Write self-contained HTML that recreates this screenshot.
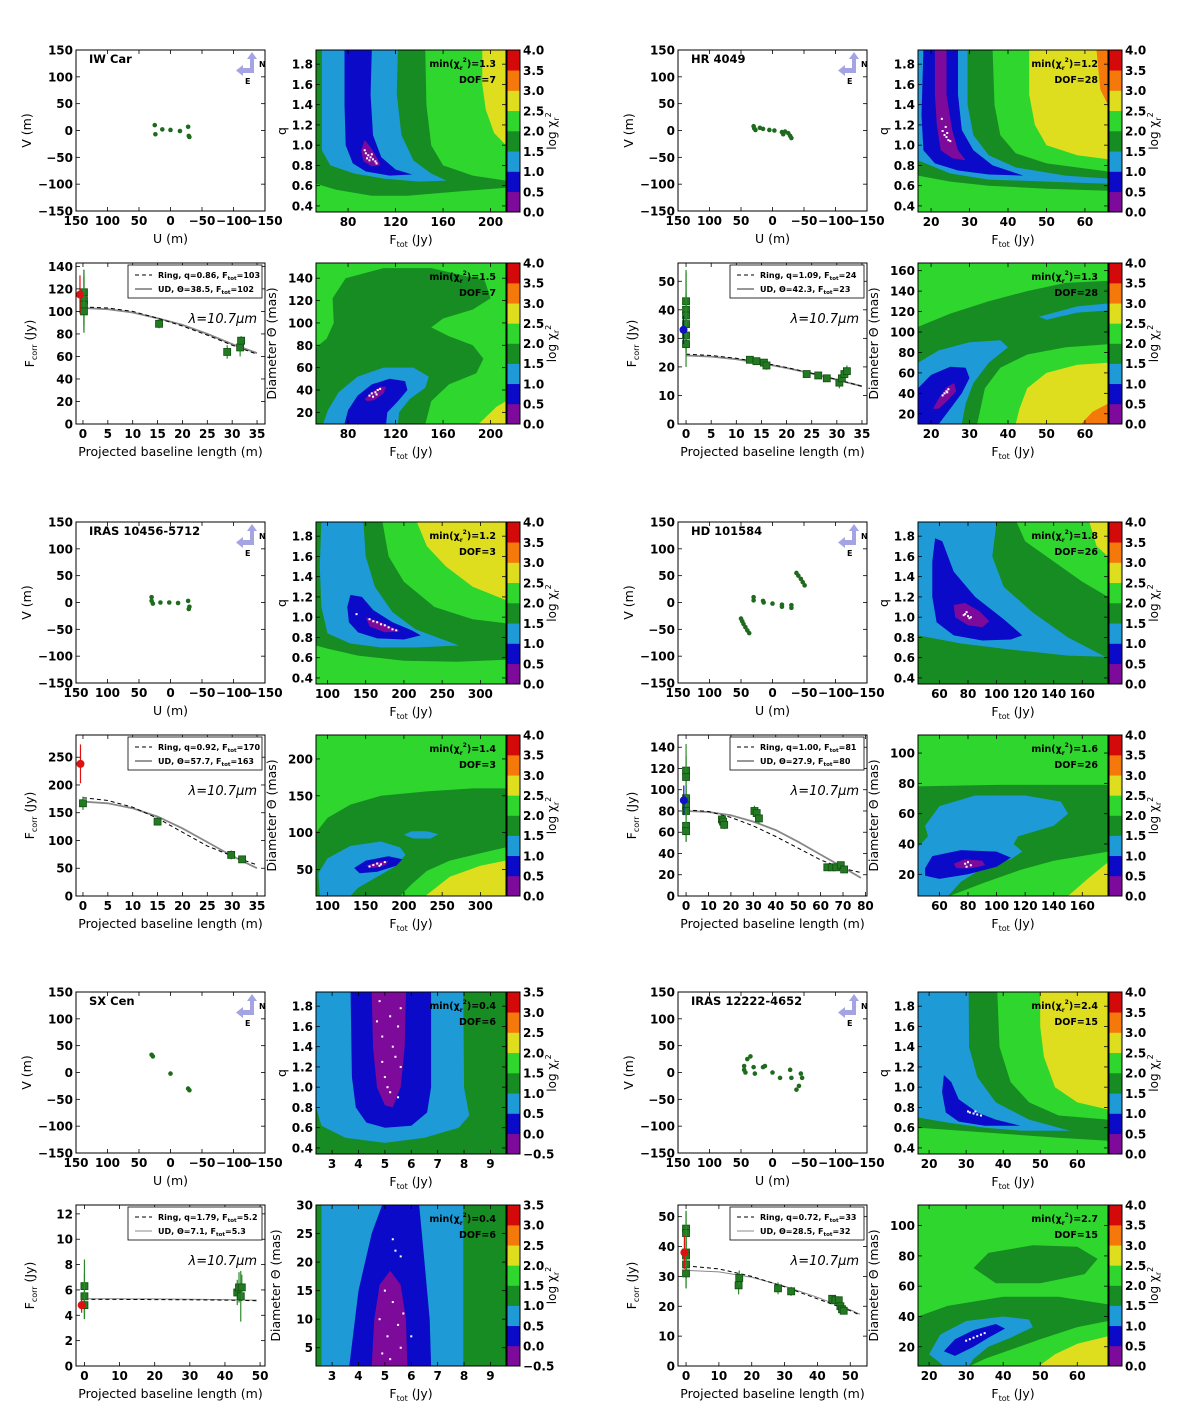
<!DOCTYPE html>
<html><head><meta charset="utf-8"><title>Interferometric fits</title>
<style>
body{margin:0;background:#fff;}
svg text{font-family:"DejaVu Sans","Liberation Sans",sans-serif;}
</style></head>
<body>
<svg id="fig" width="1200" height="1416" viewBox="0 0 1200 1416" xmlns="http://www.w3.org/2000/svg"></svg>
<script>
// ---------- data ----------
const uvTicks=[150,100,50,0,-50,-100,-150];
const qTicks=[0.4,0.6,0.8,1.0,1.2,1.4,1.6,1.8];
const cbarStd=['0.0','0.5','1.0','1.5','2.0','2.5','3.0','3.5','4.0'];
const cbarSx=['−0.5','0.0','0.5','1.0','1.5','2.0','2.5','3.0','3.5'];

// IW Car
const iwU=[25,24,13,0,-15,-28,-30,-29];
const iwV=[10,-7,2,1,-1,7,-12,-10];
const iwBase=[0.2,0.2,0.2,0.2,15.3,29,31.6,31.8];
const iwFlux=[117,110,106,100,89,64,68,74];
const iwErr=[20,27,25,12,4,6,8,4];
const iwRef=[-0.6,115,17];
const iwModelB=[0,5,10,15,20,25,30,35];
const iwRing=[104,103,100,94,87,79,70,62];
const iwUD=[103,102,99,94,88,80,71,63];
const iwLayersA=[
 ['Y',[[193,1.94],[213,1.94],[213,1.0],[203,1.12],[196,1.35],[193,1.6]]],
 ['D',[[53,1.94],[145,1.94],[146,1.4],[150,1.0],[160,0.8],[185,0.7],[213,0.65],[213,0.58],[180,0.55],[130,0.5],[100,0.5],[70,0.56],[53,0.62]]],
 ['L',[[58,1.94],[122,1.94],[121,1.5],[125,1.1],[135,0.85],[150,0.72],[163,0.65],[140,0.64],[110,0.67],[85,0.72],[65,0.8],[58,0.95]]],
 ['B',[[77,1.94],[100,1.94],[99,1.5],[101,1.1],[108,0.88],[120,0.76],[134,0.71],[115,0.70],[95,0.74],[84,0.82],[78,1.0],[77,1.4]]],
 ['P',[[94,1.05],[99,0.98],[105,0.86],[107,0.80],[100,0.79],[93,0.84],[91,0.95]]]];
const iwDotsA=[[97,0.9],[99,0.88],[101,0.86],[95,0.92],[103,0.84],[98,0.85],[100,0.91],[96,0.87],[104,0.82],[94,0.95]];
const iwLayersB=[
 ['D',[[53,9.6],[53,78],[62,86],[68,100],[67,122],[78,140],[110,149],[150,149],[195,138],[200,122],[185,112],[160,104],[150,96],[165,88],[185,80],[194,68],[188,55],[165,45],[150,30],[145,9.6]]],
 ['Y',[[190,9.6],[213,9.6],[213,30],[205,25]]],
 ['L',[[59,9.6],[63,22],[72,38],[88,52],[110,60],[135,60],[148,52],[145,42],[132,32],[123,20],[122,9.6]]],
 ['B',[[77,9.6],[80,22],[88,35],[100,45],[115,50],[128,48],[130,40],[122,30],[113,20],[112,9.6]]],
 ['P',[[94,32],[100,38],[107,43],[112,43],[110,37],[102,31],[96,30]]]];
const iwDotsB=[[100,37],[103,38],[105,40],[98,35],[107,41],[101,34],[104,36]];

// HR 4049
const hrU=[30,29,27,20,15,5,-3,-15,-17,-20,-25,-28,-30];
const hrV=[8,4,1,5,3,1,0,-3,-7,-2,-5,-10,-14];
const hrBase=[0,0,0,0,0,0,12.7,14,15.5,16,24,26.3,28,30.5,31,31.5,32];
const hrFlux=[43,40,38,35,31,28,22.5,22,21.5,20.5,17.5,17,16,14.5,16,17.5,18.5];
const hrErr=[10,14,8,10,6,8,1,1,1,1.5,1,0.8,0.8,2,2,2,2];
const hrRef=[-0.5,33,5];
const hrModelB=[0,5,10,15,20,25,30,35];
const hrRing=[24.5,24,23,21.5,19.8,17.8,15.6,13.2];
const hrUD=[24,23.6,22.7,21.3,19.6,17.7,15.5,13.2];
const hrLayersA=[
 ['D',[[16.6,1.94],[36,1.94],[36.5,1.4],[38,1.1],[42,0.92],[50,0.82],[66,0.74],[66,0.55],[50,0.57],[35,0.60],[25,0.64],[16.6,0.70]]],
 ['Y',[[45.5,1.94],[66,1.94],[66,0.86],[58,0.9],[50,1.0],[47,1.2],[45.5,1.5]]],
 ['O',[[63,1.94],[66,1.94],[66,1.4],[64,1.55]]],
 ['L',[[16.6,1.94],[29.5,1.94],[29.5,1.4],[31,1.1],[35,0.9],[42,0.78],[55,0.7],[66,0.67],[66,0.62],[50,0.64],[35,0.66],[25,0.72],[16.6,0.85]]],
 ['B',[[18,1.94],[27,1.94],[27,1.5],[28,1.15],[31,0.95],[36,0.80],[44,0.70],[35,0.71],[27,0.75],[21,0.82],[18,0.95],[17.5,1.3]]],
 ['P',[[21,1.94],[24,1.94],[24,1.5],[25.5,1.15],[27,0.95],[29,0.85],[25.5,0.87],[22.5,0.95],[21.5,1.2],[21,1.5]]]];
const hrDotsA=[[23.5,1.1],[24,1.08],[24.5,1.05],[23,1.14],[24.2,1.12],[25,1.04],[23.8,1.18],[22.8,1.26]];
const hrLayersB=[
 ['D',[[16.6,10],[16.6,105],[25,118],[35,130],[45,140],[55,148],[66,150],[66,88],[55,85],[45,78],[38,65],[34,45],[32,10]]],
 ['Y',[[42,10],[66,10],[66,70],[58,68],[50,60],[45,45],[43,25]]],
 ['O',[[59,10],[66,10],[66,30],[62,22]]],
 ['L',[[16.6,10],[16.6,70],[22,82],[30,90],[38,92],[40,85],[35,70],[31,50],[29,30],[28,10]]],
 ['L',[[48,115],[58,125],[66,128],[66,121],[58,119],[50,112]]],
 ['B',[[16.6,10],[16.6,45],[20,58],[25,66],[29,65],[30,55],[28,40],[25,25],[22,10]]],
 ['P',[[20.5,25],[22,35],[24,46],[26,50],[26.5,42],[24,32],[22,25]]]];
const hrDotsB=[[23.5,40],[24,42],[24.5,44],[23,38],[24.2,41]];

// IRAS 10456-5712
const ir1U=[30,30,28,16,2,-12,-28,-30,-29];
const ir1V=[10,3,-2,0,0,-1,3,-8,-12];
const ir1Base=[0,15,29.8,32];
const ir1Flux=[167,134,74,66];
const ir1Err=[12,6,8,6];
const ir1Ref=[-0.5,238,35];
const ir1ModelB=[0,5,10,15,20,25,30,35];
const ir1Ring=[177,172,160,140,115,90,72,56];
const ir1UD=[170,167,158,143,122,97,72,50];
const ir1LayersA=[
 ['D',[[85,1.94],[172,1.94],[180,1.6],[200,1.35],[240,1.1],[290,0.98],[333,0.94],[333,0.58],[270,0.56],[200,0.57],[140,0.62],[100,0.69],[85,0.72]]],
 ['Y',[[217,1.94],[333,1.94],[333,1.17],[290,1.3],[255,1.5],[230,1.7]]],
 ['L',[[92,1.94],[147,1.94],[150,1.6],[162,1.3],[185,1.05],[215,0.88],[272,0.72],[215,0.70],[170,0.70],[130,0.74],[100,0.84],[92,1.1],[90,1.5]]],
 ['B',[[130,1.22],[145,1.2],[160,1.07],[185,0.95],[210,0.87],[222,0.82],[200,0.78],[165,0.79],[140,0.85],[128,0.95],[126,1.1]]],
 ['P',[[150,1.0],[170,0.95],[190,0.88],[195,0.86],[175,0.85],[155,0.91]]]];
const ir1DotsA=[[160,0.96],[170,0.93],[180,0.9],[165,0.95],[185,0.88],[175,0.92],[190,0.87],[155,0.98],[138,1.03]];
const ir1LayersB=[
 ['D',[[85,14],[85,100],[100,120],[130,138],[170,150],[230,156],[290,160],[333,160],[333,80],[300,72],[260,62],[230,48],[210,30],[195,14]]],
 ['Y',[[228,14],[333,14],[333,62],[300,55],[260,40]]],
 ['L',[[90,14],[88,45],[100,65],[130,82],[170,88],[195,80],[202,70],[190,55],[165,40],[140,25],[130,14]]],
 ['L',[[200,97],[210,102],[230,102],[245,98],[235,92],[212,92]]],
 ['B',[[135,52],[150,62],[180,68],[198,64],[190,55],[165,47],[142,45]]],
 ['P',[[150,55],[165,60],[180,62],[176,56],[160,52]]]];
const ir1DotsB=[[160,56],[165,58],[170,57],[155,54],[175,60],[168,55]];

// HD 101584
const hdU=[50,48,46,43,40,37,30,30,15,14,0,-15,-15,-30,-30,-38,-41,-45,-48,-51];
const hdV=[-30,-35,-40,-46,-52,-57,10,4,3,0,-2,-4,-8,-5,-10,55,50,44,38,32];
const hdBase=[0,0,0,0,0,0,0,16,16.5,17,30.5,31.5,32.5,63,65,67,69,70.5];
const hdFlux=[118,112,92,85,80,66,61,72,70,67,80,78,73,27,27,27,29,25];
const hdErr=[25,20,12,10,8,15,10,5,5,4,5,5,5,2,2,2,3,3];
const hdRef=[-1,90,14];
const hdModelB=[0,10,20,30,40,50,60,70,78];
const hdRing=[81,79.5,74,66,56,45,34,26,22];
const hdUD=[80,79,76,70,62,51,39,27,17];
const hdLayersA=[
 ['G',[[114,1.94],[178,1.94],[178,1.2],[160,1.35],[140,1.55],[120,1.75]]],
 ['Y',[[165,1.94],[178,1.94],[178,1.6],[170,1.7]]],
 ['L',[[45,1.94],[100,1.94],[97,1.6],[105,1.3],[125,1.05],[150,0.8],[176,0.61],[150,0.62],[110,0.68],[75,0.74],[45,0.82]]],
 ['B',[[57,1.78],[62,1.75],[70,1.45],[85,1.2],[105,0.98],[118,0.82],[110,0.78],[90,0.77],[70,0.82],[58,0.95],[55,1.2],[55,1.55]]],
 ['P',[[70,1.12],[78,1.14],[88,1.06],[95,0.96],[90,0.9],[80,0.92],[71,1.0]]]];
const hdDotsA=[[78,1.03],[80,1.01],[82,1.0],[79,1.05],[81,0.99],[77,1.02]];
const hdLayersB=[
 ['D',[[45,5.7],[45,78],[100,79],[178,79],[178,35],[140,29],[117,23],[90,14],[67,5.7]]],
 ['Y',[[150,5.7],[178,5.7],[178,28],[165,18]]],
 ['L',[[45,5.7],[45,38],[52,45],[50,52],[60,65],[85,72],[120,72],[145,68],[150,60],[140,52],[115,45],[112,40],[118,35],[110,30],[90,24],[75,15],[66,5.7]]],
 ['B',[[50,24],[55,32],[75,36],[100,35],[110,31],[100,25],[80,20],[60,17],[50,19]]],
 ['P',[[70,27],[78,30],[90,29],[92,26],[82,24],[72,24]]]];
const hdDotsB=[[78,27],[80,28],[82,26],[79,25]];

// SX Cen
const sxU=[30,28,0,-28,-30];
const sxV=[33,30,-2,-30,-33];
const sxBase=[0,0,0,43.5,44,44.5,44.8];
const sxFlux=[6.3,5.5,4.8,5.8,6.2,5.5,6.2];
const sxErr=[2.1,1.8,1.1,1,1.2,2,1];
const sxRef=[-0.8,4.8,0.6];
const sxModelB=[0,10,20,30,40,49];
const sxRing=[5.25,5.25,5.24,5.22,5.2,5.15];
const sxUD=[5.3,5.3,5.29,5.27,5.24,5.2];
const sxLayersA=[
 ['L',[[2.39,1.94],[7.97,1.94],[8.0,1.0],[8.2,0.72],[7.8,0.6],[6.5,0.5],[5,0.45],[3.5,0.5],[2.6,0.62],[2.39,0.8]]],
 ['B',[[3.7,1.94],[6.75,1.94],[6.75,1.0],[6.6,0.75],[6.0,0.62],[5,0.6],[4.3,0.65],[3.9,0.8],[3.75,1.1]]],
 ['P',[[4.5,1.94],[5.8,1.94],[5.75,1.4],[5.6,1.0],[5.3,0.8],[5.0,0.82],[4.7,1.0],[4.55,1.4]]]];
const sxDotsA=[[4.8,1.85],[5.2,1.7],[5.5,1.6],[4.9,1.5],[5.3,1.4],[5.6,1.2],[5.0,1.1],[5.2,0.95],[4.7,1.65],[5.4,1.3],[5.6,1.78],[4.9,1.25],[5.1,1.0],[5.5,0.9]];
const sxLayersB=[
 ['L',[[2.6,1.8],[2.6,30],[7.97,30],[7.97,1.8]]],
 ['B',[[3.65,1.8],[4.0,15],[4.5,25],[4.9,30],[6.3,30],[6.5,20],[6.7,10],[6.75,1.8]]],
 ['P',[[4.5,1.8],[4.6,10],[4.8,16],[5.2,18.5],[5.6,16],[5.8,10],[5.85,1.8]]]];
const sxDotsB=[[5.3,24],[5.4,22],[5.6,21],[5.0,15],[5.3,13],[4.8,10],[5.5,9],[5.1,7],[5.6,5],[4.9,4],[5.2,3],[5.7,11],[6.0,7]];

// IRAS 12222-4652
const ir2U=[45,45,43,40,35,30,28,15,12,0,-12,-28,-30,-45,-47,-42,-38];
const ir2V=[12,5,0,25,30,10,-2,10,12,0,-10,5,-10,-2,-10,-25,-32];
const ir2Base=[0,0,0,0,0,0,16,16.2,28,32,44.5,45.5,46.5,47,47.5,48];
const ir2Flux=[46,44.5,38,37,34,31,27,29.5,26,25,22.5,22,22,20,19,18.5];
const ir2Err=[6,7,8,6,8,5,3,2.5,2,1.5,1,1,1,1.5,1,1];
const ir2Ref=[-0.5,38,5.5];
const ir2ModelB=[0,10,20,30,40,50,53];
const ir2Ring=[33.5,32.5,30,26.5,22.5,18.5,17];
const ir2UD=[32,31.5,29.7,26.7,23,18.8,17.3];
const ir2LayersA=[
 ['D',[[17,1.94],[38.4,1.94],[39,1.4],[42,1.05],[47,0.85],[55,0.72],[68.3,0.68],[68.3,0.47],[55,0.5],[40,0.54],[25,0.58],[17,0.6]]],
 ['Y',[[50,1.94],[68.3,1.94],[68.3,0.78],[60,0.85],[54,1.0],[51,1.3],[50,1.6]]],
 ['L',[[17,1.94],[30.7,1.94],[30.8,1.4],[33,1.1],[38,0.85],[47,0.68],[58,0.57],[45,0.57],[35,0.6],[25,0.65],[17,0.7]]],
 ['B',[[24,1.12],[26,1.05],[28,0.88],[33,0.75],[38,0.68],[44.6,0.62],[35,0.62],[28,0.66],[24.5,0.75],[23.5,0.95]]]];
const ir2DotsA=[[31,0.75],[32,0.74],[33,0.73],[30.5,0.76],[34,0.72],[32.5,0.76]];
const ir2LayersB=[
 ['D',[[32,72],[36,82],[48,87],[60,86],[65.5,78],[62,68],[50,62],[38,62]]],
 ['D',[[17,7.3],[17,40],[25,47],[40,53],[55,53],[68.3,48],[68.3,37],[60,33],[50,25],[42,18],[35,12],[31,7.3]]],
 ['Y',[[49.7,7.3],[68.3,7.3],[68.3,27],[60,22],[54,15]]],
 ['L',[[24,7.3],[20,15],[23,28],[30,37],[40,40],[47,38],[48,33],[42,26],[36,20],[32,12],[30.7,7.3]]],
 ['B',[[24,17],[27,25],[32,31],[38,35],[40.5,32],[36,26],[32,20],[27,14]]]];
const ir2DotsB=[[31,25],[32,26],[33,27],[30,24],[34,28],[35,29]];

// ---------- drawing ----------
const COL={P:'#7d0a9a',B:'#0a0ac8',L:'#1e9ad6',D:'#168c22',G:'#2ed62e',Y:'#dede1e',O:'#f5780a',R:'#d40a0a'};
const BANDS=['P','B','L','D','G','Y','O','R'];
const NS='http://www.w3.org/2000/svg';
const svg=document.getElementById('fig');
let clipN=0;
function mk(tag,parent,attrs){const e=document.createElementNS(NS,tag);for(const k in attrs)e.setAttribute(k,attrs[k]);parent.appendChild(e);return e;}
function T(parent,x,y,s,size,anchor,weight,extra){const t=mk('text',parent,Object.assign({x:x,y:y,'font-size':size,'text-anchor':anchor||'start','font-weight':weight||'normal',fill:'#000'},extra||{}));t.textContent=s;return t;}
function spans(t,parts,small){parts.forEach(p=>{const a={};if(p[1])a.dy=p[1];if(p[2])a['font-size']=small;const s=mk('tspan',t,a);s.textContent=p[0];});}
function axes(x0,y0,w,h,xl,yl){return {x0,y0,w,h,sx:v=>x0+(v-xl[0])/(xl[1]-xl[0])*w,sy:v=>y0+h-(v-yl[0])/(yl[1]-yl[0])*h};}
function fmt(v){return (v<0?'−':'')+Math.abs(v);}
function frame(g,ax,xt,yt,xfmt,yfmt){
  const f=mk('g',g,{});
  
  
  xt.forEach(v=>{const x=ax.sx(v);
    mk('line',f,{x1:x,x2:x,y1:ax.y0+ax.h,y2:ax.y0+ax.h-4,stroke:'#000','stroke-width':0.8});
    mk('line',f,{x1:x,x2:x,y1:ax.y0,y2:ax.y0+4,stroke:'#000','stroke-width':0.8});
    const t=T(f,x,ax.y0+ax.h+14,xfmt?xfmt(v):fmt(v),12,'middle','bold');
    
    });
  yt.forEach(v=>{const y=ax.sy(v);
    mk('line',f,{x1:ax.x0,x2:ax.x0+4,y1:y,y2:y,stroke:'#000','stroke-width':0.8});
    mk('line',f,{x1:ax.x0+ax.w,x2:ax.x0+ax.w-4,y1:y,y2:y,stroke:'#000','stroke-width':0.8});
    const t=T(f,ax.x0-3,y+4.5,yfmt?yfmt(v):fmt(v),12,'end','bold');
    
    });
  const r=mk('rect',g,{x:ax.x0,y:ax.y0,width:ax.w,height:ax.h,fill:'none',stroke:'#000','stroke-width':1});
  
  
}
function xTitle(g,ax,parts){const t=mk('text',g,{x:ax.x0+ax.w/2,y:ax.y0+ax.h+32,'font-size':12.5,'text-anchor':'middle'});
  spans(t,parts,8);
  
  }
function yTitle(g,x,y,parts){const t=mk('text',g,{x:x,y:y,'font-size':12.5,'text-anchor':'middle',transform:`rotate(-90 ${x} ${y})`});
  spans(t,parts,8);
  
  }
const fTot=[['F'],['tot',3,1],[' (Jy)',-3]];

function uvPanel(name,co,ro,U,V){
  const g=mk('g',svg,{});
  
  
  const ax=axes(76+co,50+ro,189,161,[150,-150],[-150,150]);
  U.forEach((u,i)=>{const c=mk('circle',g,{cx:ax.sx(u),cy:ax.sy(V[i]),r:2.3,fill:'#1e6b1e'});
    
    });
  frame(g,ax,uvTicks,uvTicks);
  const n=T(g,ax.x0+13,ax.y0+13,name,11.5,'start','bold');
  
  
  const a=mk('g',g,{fill:'#a4a4e4'});
  
  
  const bx=ax.x0,by=ax.y0;
  mk('rect',a,{x:bx+174,y:by+8,width:4,height:14});
  mk('polygon',a,{points:`${bx+171},${by+9} ${bx+176},${by+2} ${bx+181},${by+9}`});
  mk('rect',a,{x:bx+166,y:by+18,width:12,height:5});
  mk('polygon',a,{points:`${bx+167},${by+15} ${bx+160},${by+20.5} ${bx+167},${by+26}`});
  T(g,bx+183,by+17,'N',8,'start','bold');
  T(g,bx+169,by+34,'E',8,'start','bold');
  xTitle(g,ax,[['U (m)']]);
  yTitle(g,ax.x0-45,ax.y0+ax.h/2,[['V (m)']]);
}
function poly(ax,pts){return pts.map(p=>ax.sx(p[0]).toFixed(1)+','+ax.sy(p[1]).toFixed(1)).join(' ');}
function contourPanel(co,ro,top,xl,yl,bg,layers,dots,xt,yt,minTxt,dof,cbl,ylabel,yoff){
  const g=mk('g',svg,{});
  
  
  const h=top?162:161;
  const ax=axes(316+co,(top?50:263)+ro,190,h,xl,yl);
  const id='cl'+(clipN++);
  const cp=mk('clipPath',g,{id:id});mk('rect',cp,{x:ax.x0,y:ax.y0,width:ax.w,height:ax.h});
  const cg=mk('g',g,{'clip-path':`url(#${id})`});
  const b=mk('rect',cg,{x:ax.x0,y:ax.y0,width:ax.w,height:ax.h,fill:COL[bg]});
  
  
  layers.forEach(L=>{const p=mk('polygon',cg,{points:poly(ax,L[1]),fill:COL[L[0]]});
    
    });
  dots.forEach(d=>{const r=mk('rect',cg,{x:ax.sx(d[0])-1,y:ax.sy(d[1])-1,width:2,height:2,fill:'#fff'});
    
    });
  frame(g,ax,xt,yt,null,v=>v.toFixed(v<2&&yl[1]<3?1:0));
  const m=mk('text',g,{x:ax.x0+ax.w-10,y:ax.y0+17,'font-size':9.5,'font-weight':'bold','text-anchor':'end'});
  
  
  spans(m,[['min(χ'],['r',3,1],['2',-8,1],[')='+minTxt,5]],6);
  const d=T(g,ax.x0+ax.w-10,ax.y0+33,'DOF='+dof,9.5,'end','bold');
  
  
  // colorbar
  const cb=mk('g',g,{});
  
  
  const bh=ax.h/8;
  BANDS.forEach((k,i)=>mk('rect',cb,{x:ax.x0+ax.w+1,y:ax.y0+ax.h-(i+1)*bh,width:13,height:bh+0.3,fill:COL[k]}));
  mk('rect',cb,{x:ax.x0+ax.w+1,y:ax.y0,width:13,height:ax.h,fill:'none',stroke:'#000','stroke-width':1});
  cbl.forEach((s,i)=>T(cb,ax.x0+ax.w+17,ax.y0+ax.h-i*bh+4.5,s,12,'start','bold'));
  const cx=ax.x0+ax.w+50,cy=ax.y0+ax.h/2;
  const lt=mk('text',cb,{x:cx,y:cy,'font-size':12,'text-anchor':'middle','font-family':'Liberation Serif,serif',transform:`rotate(-90 ${cx} ${cy})`});
  spans(lt,[['log χ'],['r',3,1],['2',-8,1]],8);
  xTitle(g,ax,fTot);
  yTitle(g,ax.x0-yoff,ax.y0+ax.h/2,ylabel);
}
function fcorrPanel(co,ro,xl,yl,xt,yt,base,flux,err,ref,refCol,mB,ring,ud,leg1,leg2,udW){
  const g=mk('g',svg,{});
  
  
  const ax=axes(76+co,263+ro,189,161,xl,yl);
  const id='cl'+(clipN++);
  const cp=mk('clipPath',g,{id:id});mk('rect',cp,{x:ax.x0,y:ax.y0,width:ax.w,height:ax.h});
  const cg=mk('g',g,{'clip-path':`url(#${id})`});
  const lp=(arr)=>mB.map((b,i)=>ax.sx(b).toFixed(1)+','+ax.sy(arr[i]).toFixed(1)).join(' ');
  const u=mk('polyline',cg,{points:lp(ud),fill:'none',stroke:'#888','stroke-width':udW||1.8});
  
  
  const r=mk('polyline',cg,{points:lp(ring),fill:'none',stroke:'#000','stroke-width':1,'stroke-dasharray':'4,3'});
  
  
  base.forEach((b,i)=>{const x=ax.sx(b),y=ax.sy(flux[i]);
    mk('line',cg,{x1:x,x2:x,y1:ax.sy(flux[i]-err[i]),y2:ax.sy(flux[i]+err[i]),stroke:'#2a8a2a','stroke-width':1.2});
    const s=mk('rect',cg,{x:x-3.5,y:y-3.5,width:7,height:7,fill:'#237a23',stroke:'#0f4f0f','stroke-width':0.8});
    
    });
  const rx=ax.sx(ref[0]),ry=ax.sy(ref[1]);
  mk('line',cg,{x1:rx,x2:rx,y1:ax.sy(ref[1]-ref[2]),y2:ax.sy(ref[1]+ref[2]),stroke:refCol,'stroke-width':1.2});
  const c=mk('circle',cg,{cx:rx,cy:ry,r:4,fill:refCol});
  
  
  frame(g,ax,xt,yt);
  const lg=mk('g',g,{});
  
  
  const lx=ax.x0+ax.w-137,ly=ax.y0+2;
  mk('rect',lg,{x:lx,y:ly,width:134,height:33,fill:'#fff',stroke:'#000','stroke-width':0.8});
  mk('line',lg,{x1:lx+7,x2:lx+24,y1:ly+10,y2:ly+10,stroke:'#000','stroke-width':1,'stroke-dasharray':'4,3'});
  mk('line',lg,{x1:lx+7,x2:lx+24,y1:ly+24,y2:ly+24,stroke:'#888','stroke-width':udW||1.8});
  [[leg1,ly+13],[leg2,ly+27]].forEach(L=>{const t=mk('text',lg,{x:lx+30,y:L[1],'font-size':8,'font-weight':'bold'});
    spans(t,L[0],5.5);});
  const lam=T(g,ax.x0+ax.w-8,ax.y0+60,'λ=10.7μm',13,'end','normal',{'font-family':'Liberation Serif,serif','font-style':'italic'});
  
  
  xTitle(g,ax,[['Projected baseline length (m)']]);
  yTitle(g,ax.x0-42,ax.y0+ax.h/2,[['F'],['corr',3,1],[' (Jy)',-3]]);
}
function legTxt(a,b){return [[a+', F'],['tot',2,1],['='+b,-2]];}

const qLab=[['q']];
const dLab=[['Diameter Θ (mas)']];
const qlim=[0.34,1.94];

// IW Car (row 1 left)
uvPanel('IW Car',0,0,iwU,iwV);
contourPanel(0,0,true,[53,213],qlim,'G',iwLayersA,iwDotsA,[80,120,160,200],qTicks,'1.3','7',cbarStd,qLab,30);
fcorrPanel(0,0,[-1.4,36.6],[0,143],[0,5,10,15,20,25,30,35],[0,20,40,60,80,100,120,140],iwBase,iwFlux,iwErr,iwRef,'#e01010',iwModelB,iwRing,iwUD,legTxt('Ring, q=0.86','103'),legTxt('UD, Θ=38.5','102'));
contourPanel(0,0,false,[53,213],[9.6,153.6],'G',iwLayersB,iwDotsB,[80,120,160,200],[20,40,60,80,100,120,140],'1.5','7',cbarStd,dLab,40);
// HR 4049 (row 1 right)
uvPanel('HR 4049',602,0,hrU,hrV);
contourPanel(602,0,true,[16.6,66],qlim,'G',hrLayersA,hrDotsA,[20,30,40,50,60],qTicks,'1.2','28',cbarStd,qLab,30);
fcorrPanel(602,0,[-1.6,36],[0,56.4],[0,5,10,15,20,25,30,35],[0,10,20,30,40,50],hrBase,hrFlux,hrErr,hrRef,'#1010c8',hrModelB,hrRing,hrUD,legTxt('Ring, q=1.09','24'),legTxt('UD, Θ=42.3','23'));
contourPanel(602,0,false,[16.6,66],[10,167.5],'G',hrLayersB,hrDotsB,[20,30,40,50,60],[20,40,60,80,100,120,140,160],'1.3','28',cbarStd,dLab,40);
// IRAS 10456-5712 (row 2 left)
uvPanel('IRAS 10456-5712',0,472,ir1U,ir1V);
contourPanel(0,472,true,[85,333.5],qlim,'G',ir1LayersA,ir1DotsA,[100,150,200,250,300],qTicks,'1.2','3',cbarStd,qLab,30);
fcorrPanel(0,472,[-1.4,36.6],[0,290],[0,5,10,15,20,25,30,35],[0,50,100,150,200,250],ir1Base,ir1Flux,ir1Err,ir1Ref,'#e01010',ir1ModelB,ir1Ring,ir1UD,legTxt('Ring, q=0.92','170'),legTxt('UD, Θ=57.7','163'));
contourPanel(0,472,false,[85,333.5],[14,232.5],'G',ir1LayersB,ir1DotsB,[100,150,200,250,300],[50,100,150,200],'1.4','3',cbarStd,dLab,40);
// HD 101584 (row 2 right)
uvPanel('HD 101584',602,472,hdU,hdV);
contourPanel(602,472,true,[45,178],qlim,'D',hdLayersA,hdDotsA,[60,80,100,120,140,160],qTicks,'1.8','26',cbarStd,qLab,30);
fcorrPanel(602,472,[-3.6,80.7],[0,151.5],[0,10,20,30,40,50,60,70,80],[0,20,40,60,80,100,120,140],hdBase,hdFlux,hdErr,hdRef,'#1010c8',hdModelB,hdRing,hdUD,legTxt('Ring, q=1.00','81'),legTxt('UD, Θ=27.9','80'));
contourPanel(602,472,false,[45,178],[5.7,111.9],'G',hdLayersB,hdDotsB,[60,80,100,120,140,160],[20,40,60,80,100],'1.6','26',cbarStd,dLab,40);
// SX Cen (row 3 left)
uvPanel('SX Cen',0,942,sxU,sxV);
contourPanel(0,942,true,[2.39,9.59],qlim,'D',sxLayersA,sxDotsA,[3,4,5,6,7,8,9],qTicks,'0.4','6',cbarSx,qLab,30);
fcorrPanel(0,942,[-2.4,51.4],[0,12.7],[0,10,20,30,40,50],[0,2,4,6,8,10,12],sxBase,sxFlux,sxErr,sxRef,'#e01010',sxModelB,sxRing,sxUD,legTxt('Ring, q=1.79','5.2'),legTxt('UD, Θ=7.1','5.3'),1);
contourPanel(0,942,false,[2.39,9.59],[1.8,30],'D',sxLayersB,sxDotsB,[3,4,5,6,7,8,9],[5,10,15,20,25,30],'0.4','6',cbarSx,dLab,36);
// IRAS 12222-4652 (row 3 right)
uvPanel('IRAS 12222-4652',602,942,ir2U,ir2V);
contourPanel(602,942,true,[17,68.3],qlim,'G',ir2LayersA,ir2DotsA,[20,30,40,50,60],qTicks,'2.4','15',cbarStd,qLab,30);
fcorrPanel(602,942,[-2.45,55.1],[0,53.9],[0,10,20,30,40,50],[0,10,20,30,40,50],ir2Base,ir2Flux,ir2Err,ir2Ref,'#e01010',ir2ModelB,ir2Ring,ir2UD,legTxt('Ring, q=0.72','33'),legTxt('UD, Θ=28.5','32'),1);
contourPanel(602,942,false,[17,68.3],[7.3,113.6],'G',ir2LayersB,ir2DotsB,[20,30,40,50,60],[20,40,60,80,100],'2.7','15',cbarStd,dLab,40);
</script>
</body></html>
